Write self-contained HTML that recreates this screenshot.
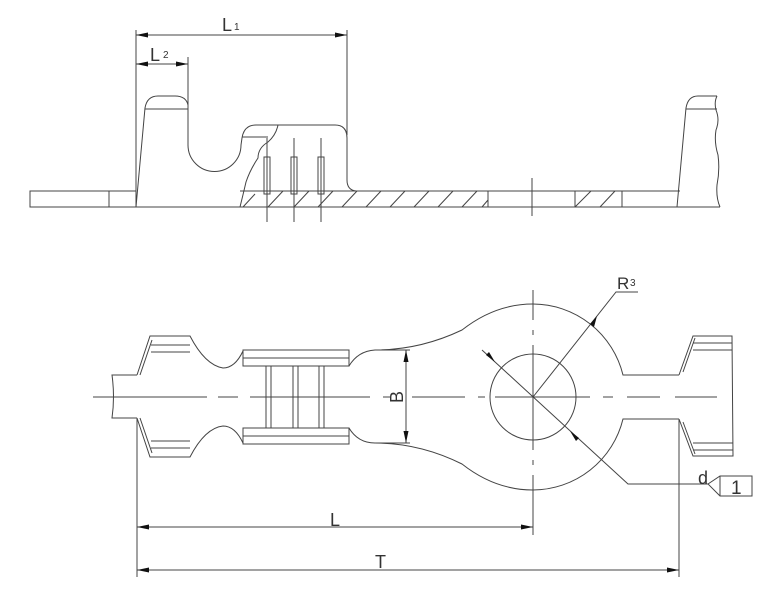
<!DOCTYPE html>
<html><head><meta charset="utf-8"><style>
html,body{margin:0;padding:0;background:#fff}
svg{display:block}
text{font-family:"Liberation Sans",sans-serif;fill:#333}
</style></head><body>
<svg width="771" height="600" viewBox="0 0 771 600" xmlns="http://www.w3.org/2000/svg">
<g fill="none" stroke="#444" stroke-width="1">
<!-- TOP VIEW -->
<!-- dims -->
<line x1="136" y1="30" x2="136" y2="207"/>
<line x1="347" y1="30" x2="347" y2="135"/>
<line x1="188" y1="57" x2="188" y2="105"/>
<line x1="136" y1="35" x2="347" y2="35"/>
<line x1="136" y1="64" x2="188" y2="64"/>
<!-- left strip -->
<rect x="30" y="191" width="106" height="16"/>
<line x1="109" y1="191" x2="109" y2="207"/>
<!-- left post and U -->
<path d="M136,207 L145,108 Q147,96 158,96 L175,96 Q186,96 188,105 L188,145 A26,26 0 0 0 241,145 L242,138 Q244,125 256,125 L335,125 Q347,125 347,138 L347,180 Q347,190 356,191"/>
<line x1="145" y1="109" x2="188" y2="109"/>
<line x1="242" y1="137" x2="268" y2="137"/>
<path d="M278,125 Q276,135 268,142 Q258,148 258,158 Q250,170 246,182 Q243,195 240,207"/>
<!-- slots -->
<rect x="264" y="157" width="6" height="37"/>
<rect x="291" y="157" width="6" height="37"/>
<rect x="318" y="157" width="6" height="37"/>
<line x1="267" y1="138" x2="267" y2="222"/>
<line x1="294" y1="138" x2="294" y2="222"/>
<line x1="321" y1="138" x2="321" y2="222"/>
<!-- base strip -->
<line x1="136" y1="207" x2="720" y2="207"/>
<line x1="240" y1="191" x2="680" y2="191"/>
<line x1="488" y1="191" x2="488" y2="207"/>
<line x1="575" y1="191" x2="575" y2="207"/>
<line x1="622" y1="191" x2="622" y2="207"/>
<line x1="532" y1="178" x2="532" y2="216"/>
<!-- hatching -->
<g>
<line x1="243" y1="207" x2="255" y2="194"/>
<line x1="268" y1="207" x2="283" y2="191"/>
<line x1="294" y1="207" x2="309" y2="191"/>
<line x1="318" y1="207" x2="333" y2="191"/>
<line x1="342" y1="207" x2="357" y2="191"/>
<line x1="366" y1="207" x2="381" y2="191"/>
<line x1="390" y1="207" x2="405" y2="191"/>
<line x1="414" y1="207" x2="429" y2="191"/>
<line x1="438" y1="207" x2="453" y2="191"/>
<line x1="462" y1="207" x2="477" y2="191"/>
<line x1="482" y1="207" x2="488" y2="200"/>
<line x1="575" y1="207" x2="591" y2="191"/>
<line x1="600" y1="207" x2="615" y2="191"/>
</g>
<!-- right post -->
<path d="M677,207 L686,108 Q688,96 698,96 L717,96"/>
<line x1="686" y1="109" x2="717" y2="109"/>
<path d="M717,96 Q714,102 716,110 Q720,120 716,130 Q714,142 718,155 Q720,170 717,185 Q716,198 720,207"/>

<!-- BOTTOM VIEW -->
<!-- center lines -->
<path d="M93,397 H207 M218,397 H238 M250,397 H370 M383,397 H390 M412,397 H465 M478,397 H485 M495,397 H590 M603,397 H613 M627,397 H660 M675,397 H717" />
<path d="M533,290 V320 M533,330 V335 M533,345 V450 M533,460 V465 M533,475 V535"/>
<!-- left stub -->
<path d="M137,375 L112,375 Q115,397 112,418 L137,418"/>
<!-- left end top -->
<path d="M137,375 L150,336 L190,336 Q205,365 223,368 Q235,368 243,351"/>
<path d="M140,375 L152,340"/>
<line x1="151" y1="345" x2="190" y2="345"/>
<line x1="151" y1="352" x2="190" y2="352"/>
<!-- left end bottom -->
<path d="M137,418 L150,457 L190,457 Q205,428 223,426 Q235,426 243,443"/>
<path d="M140,418 L152,453"/>
<line x1="151" y1="448" x2="190" y2="448"/>
<line x1="151" y1="441" x2="190" y2="441"/>
<!-- crimp bands -->
<rect x="243" y="350" width="106" height="16"/>
<line x1="243" y1="358" x2="349" y2="358"/>
<rect x="243" y="428" width="106" height="16"/>
<line x1="243" y1="436" x2="349" y2="436"/>
<line x1="266" y1="366" x2="266" y2="428"/>
<line x1="271" y1="366" x2="271" y2="428"/>
<line x1="293" y1="366" x2="293" y2="428"/>
<line x1="298" y1="366" x2="298" y2="428"/>
<line x1="319" y1="366" x2="319" y2="428"/>
<line x1="324" y1="366" x2="324" y2="428"/>
<!-- flare and ring -->
<path d="M349,366 Q358,351 375,350 L410,350"/>
<path d="M349,428 Q358,443 375,443 L410,443"/>
<path d="M375,350 Q420,350 462,330 Q495,304 533,304 A93,93 0 0 1 623,375 L679,375"/>
<path d="M375,443 Q420,443 462,464 Q495,490 533,490 A93,93 0 0 0 623,419 L679,419"/>
<circle cx="533" cy="397" r="43"/>
<!-- right end -->
<path d="M679,375 L693,336 L732,336 L733,456 L693,456 L679,419"/>
<path d="M683,372 L695,338"/>
<path d="M683,422 L695,454"/>
<line x1="693" y1="343" x2="732" y2="343"/>
<line x1="693" y1="350" x2="732" y2="350"/>
<line x1="693" y1="443" x2="733" y2="443"/>
<line x1="693" y1="450" x2="733" y2="450"/>
<!-- B dim -->
<line x1="406" y1="350" x2="406" y2="443"/>
<!-- leaders -->
<path d="M533,397 L616,292 L638,292"/>
<path d="M482,350 L628,484 L708,484"/>
<!-- d box -->
<path d="M708,484 L720,476 L752,476 L752,496 L720,496 Z"/>
<line x1="720" y1="476" x2="720" y2="496"/>
<!-- extension lines -->
<line x1="137" y1="418" x2="137" y2="577"/>
<line x1="679" y1="419" x2="679" y2="577"/>
<line x1="137" y1="527" x2="533" y2="527"/>
<line x1="137" y1="570" x2="679" y2="570"/>
</g>
<!-- arrowheads -->
<g fill="#111">
<path d="M136,35 l12,-2.5 v5z"/><path d="M347,35 l-12,-2.5 v5z"/>
<path d="M136,64 l12,-2.5 v5z"/><path d="M188,64 l-12,-2.5 v5z"/>
<path d="M406,350 l-2.5,12 h5z"/><path d="M406,443 l-2.5,-12 h5z"/>
<path d="M137,527 l12,-2.5 v5z"/><path d="M533,527 l-12,-2.5 v5z"/>
<path d="M137,570 l12,-2.5 v5z"/><path d="M679,570 l-12,-2.5 v5z"/>
<path d="M597,316 l-3,11 l-4,-3z"/>
<path d="M495,362 l-9,-7 l3,-3z"/>
<path d="M570,431 l9,7 l-3,3z"/>
</g>
<!-- labels -->
<text x="222" y="31" font-size="18">L</text><text x="234" y="30" font-size="10">1</text>
<text x="150" y="61" font-size="18">L</text><text x="163" y="58" font-size="10">2</text>
<text x="617" y="289" font-size="17">R</text><text x="630" y="286" font-size="10">3</text>
<text x="330" y="526" font-size="18">L</text>
<text x="375" y="568" font-size="18">T</text>
<text x="698" y="484" font-size="18">d</text>
<text x="731" y="494" font-size="19" font-family="Liberation Serif">1</text>
<text x="0" y="0" font-size="18" transform="translate(403,397) rotate(-90)" text-anchor="middle">B</text>
</svg>
</body></html>
